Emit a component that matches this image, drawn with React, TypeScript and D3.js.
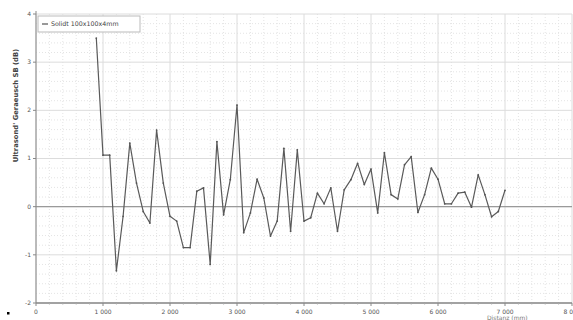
import React from 'react';
import { scaleLinear, line, range } from 'd3';

const width = 573;
const height = 320;
const margin = { top: 14, right: 1, bottom: 17, left: 36 };

// distance (mm), one reading every 100 mm
const distances = range(900, 7001, 100);
const noise = [
  3.5, 1.07, 1.07, -1.33, -0.2, 1.32, 0.49, -0.1, -0.34, 1.59,
  0.49, -0.2, -0.3, -0.85, -0.85, 0.32, 0.39, -1.2, 1.35, -0.17,
  0.56, 2.11, -0.54, -0.13, 0.57, 0.18, -0.61, -0.3, 1.21, -0.51,
  1.18, -0.3, -0.23, 0.28, 0.06, 0.39, -0.51, 0.35, 0.56, 0.9,
  0.46, 0.78, -0.13, 1.12, 0.25, 0.16, 0.87, 1.04, -0.12, 0.25,
  0.8, 0.57, 0.06, 0.06, 0.28, 0.3, -0.01, 0.66, 0.25, -0.21,
  -0.1, 0.34,
];
const xTicks = [0, 1000, 2000, 3000, 4000, 5000, 6000, 7000, 8000];
const yTicks = [-2, -1, 0, 1, 2, 3, 4];
const seriesName = 'Solidt 100x100x4mm';
const yTitle = "Ultrasond' Geraeusch SB (dB)";
const xTitle = 'Distanz (mm)';

const fmt = (v: number) => (v >= 1000 ? `${Math.floor(v / 1000)} ${String(v % 1000).padStart(3, '0')}` : `${v}`);

const App = () => {
  const innerW = width - margin.left - margin.right;
  const innerH = height - margin.top - margin.bottom;

  const x = scaleLinear().domain([0, 8000]).range([0, innerW]);
  const y = scaleLinear().domain([-2, 4]).range([innerH, 0]);

  const pts = distances.map((d, i) => ({ d, v: noise[i] }));
  const path = line<{ d: number; v: number }>()
    .x(p => x(p.d))
    .y(p => y(p.v))(pts);

  const xMinor = range(0, 8001, 200).filter(v => v % 1000 !== 0);
  const yMinor = range(-2, 4.001, 0.2).filter(v => Math.abs(v - Math.round(v)) > 0.01);

  return (
    <svg
      width={width}
      height={height}
      style={{ position: 'absolute', left: 0, top: 0, background: '#fff' }}
      fontFamily="'DejaVu Sans', sans-serif"
    >
      <g transform={`translate(${margin.left}, ${margin.top})`}>
        {/* minor grid */}
        {xMinor.map(v => (
          <line key={`xm${v}`} x1={x(v)} x2={x(v)} y1={0} y2={innerH} stroke="#e4e4e4" strokeDasharray="1,2" />
        ))}
        {yMinor.map(v => (
          <line key={`ym${v}`} x1={0} x2={innerW} y1={y(v)} y2={y(v)} stroke="#e4e4e4" strokeDasharray="1,2" />
        ))}
        {/* major grid */}
        {xTicks.map(v => (
          <line key={`xg${v}`} x1={x(v)} x2={x(v)} y1={0} y2={innerH} stroke="#dcdcdc" />
        ))}
        {yTicks.map(v => (
          <line key={`yg${v}`} x1={0} x2={innerW} y1={y(v)} y2={y(v)} stroke="#dcdcdc" />
        ))}
        {/* zero line */}
        <line x1={0} x2={innerW} y1={y(0)} y2={y(0)} stroke="#9a9a9a" strokeWidth={1.2} />

        {/* axes */}
        <line x1={0} x2={0} y1={-3} y2={innerH} stroke="#888" />
        <line x1={0} x2={innerW} y1={innerH} y2={innerH} stroke="#888" strokeWidth={1.5} />
        {yTicks.map(v => (
          <g key={`yt${v}`} transform={`translate(0, ${y(v)})`}>
            <line x1={-3} x2={0} stroke="#888" />
            <text x={-5} dy=".32em" fontSize={6} textAnchor="end" fill="#555">{v}</text>
          </g>
        ))}
        {xTicks.map(v => (
          <g key={`xt${v}`} transform={`translate(${x(v)}, ${innerH})`}>
            <line y1={0} y2={3} stroke="#888" />
            <text y={11} fontSize={6} textAnchor="middle" fill="#555">{fmt(v)}</text>
          </g>
        ))}
        {xMinor.map(v => (
          <line key={`xmt${v}`} x1={x(v)} x2={x(v)} y1={innerH} y2={innerH + 1.5} stroke="#aaa" />
        ))}

        {/* series */}
        <path d={path || ''} fill="none" stroke="#5a5a5a" strokeWidth={1.2} strokeLinejoin="round" />
        {pts.map(p => (
          <circle key={p.d} cx={x(p.d)} cy={y(p.v)} r={0.9} fill="#555" />
        ))}

        {/* legend */}
        <g transform="translate(2, 2)">
          <rect x={0} y={0} width={102} height={16} fill="#fff" stroke="#bbb" />
          <line x1={4} x2={10} y1={8} y2={8} stroke="#555" strokeWidth={1.2} />
          <text x={13} y={8} dy=".32em" fontSize={6.3} fill="#444">{seriesName}</text>
        </g>
      </g>

      {/* y title */}
      <text
        transform={`translate(18, ${margin.top + y(2.1)}) rotate(-90)`}
        fontSize={6.8}
        fontWeight="bold"
        textAnchor="middle"
        fill="#444"
      >
        {yTitle}
      </text>
      <text x={487} y={320} fontSize={6} fill="#777">{xTitle}</text>
      <rect x={7} y={312} width={2.5} height={2.5} fill="#000" />
    </svg>
  );
};

export default App;
